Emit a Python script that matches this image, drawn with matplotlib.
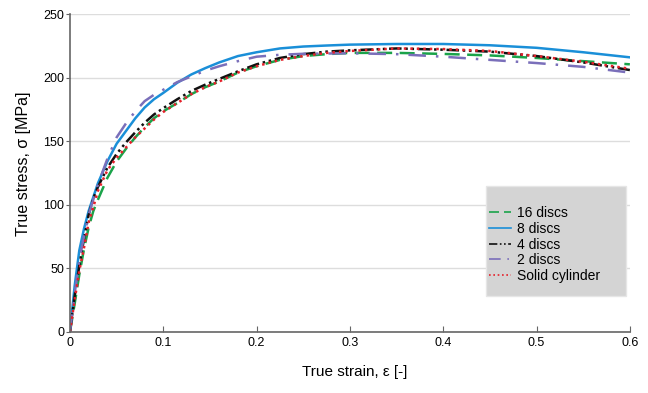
import matplotlib
matplotlib.use("Agg")
import matplotlib.pyplot as plt
from matplotlib.patches import Rectangle

plt.rcParams["font.family"] = ["Liberation Sans", "DejaVu Sans"]

# strain [-] / stress [MPa]
strain = [0.0, 0.005, 0.01, 0.015, 0.02, 0.025, 0.03, 0.04, 0.05, 0.06, 0.07, 0.08,
          0.09, 0.1, 0.115, 0.13, 0.145, 0.16, 0.18, 0.2, 0.225, 0.25, 0.275, 0.3,
          0.35, 0.4, 0.45, 0.5, 0.55, 0.6]

s16 = [0, 22, 45, 65, 82, 95, 104, 121, 134, 144, 153, 161,
       168, 173.5, 180, 187, 192.5, 197, 204, 209, 214, 217, 218.5, 219.5,
       219.5, 218.7, 217.5, 215.5, 213, 210.5]
s8 = [0, 36, 64, 81, 95, 106, 117, 134, 148, 158, 168, 176.5,
      183, 188, 196, 202.5, 207.5, 212, 217, 220, 223, 224.5, 225.3, 226,
      226.5, 226.5, 225.5, 223.5, 220, 216]
s4 = [0, 28, 52, 73, 92, 105, 114, 129, 140, 149, 157, 164.5,
      171, 176, 183, 189.5, 194.5, 199, 205, 210.5, 215.5, 218.5, 220.5, 221.5,
      223, 222, 220.5, 217, 212, 206]
s2 = [0, 30, 56, 75, 92, 104, 116, 136, 153, 164, 173.5, 181.5,
      186.5, 190.5, 196.5, 201, 205.5, 209, 213, 216.5, 218, 218.8, 219, 219.2,
      218.5, 216.5, 214, 211.5, 208.5, 204]
solid = [0, 25, 48, 66, 86, 98, 111, 127, 137, 145, 153, 160,
         167, 173, 180, 187, 192.5, 197, 204, 209, 214, 217, 219.5, 221,
         223, 222.5, 221, 217, 212.5, 207]

labels = ["16 discs", "8 discs", "4 discs", "2 discs", "Solid cylinder"]
colors = ["#1aa34a", "#1a8fd8", "#111111", "#7a6fba", "#e5202a"]
styles = [(0, (6, 3)), "-", (0, (5, 1.5, 1, 1.5, 1, 1.5)), (0, (7, 4, 1, 4)), (0, (1, 1.6))]

fig = plt.figure(figsize=(6.48, 3.93), dpi=100)
ax = fig.add_axes([0.108, 0.156, 0.864, 0.808])

for ys, lab, c, ls in zip([s16, s8, s4, s2, solid], labels, colors, styles):
    ax.plot(strain, ys, color=c, linestyle=ls, linewidth=1.8, label=lab)

ax.set_xlim(0, 0.6)
ax.set_ylim(0, 250)
ax.set_xticks([0, 0.1, 0.2, 0.3, 0.4, 0.5, 0.6])
ax.set_xticklabels(["0", "0.1", "0.2", "0.3", "0.4", "0.5", "0.6"])
ax.set_yticks([0, 50, 100, 150, 200, 250])
ax.yaxis.grid(True, color="#dddddd", linewidth=1)
ax.set_axisbelow(True)
for sp in ["top", "right"]:
    ax.spines[sp].set_visible(False)
for sp in ["left", "bottom"]:
    ax.spines[sp].set_color("#666666")
    ax.spines[sp].set_linewidth(1.2)
ax.tick_params(axis="x", direction="in", length=4, color="#666666", labelsize=9, pad=4)
ax.tick_params(axis="y", direction="out", length=3, color="#666666", labelsize=9, pad=1)

ax.set_xlabel("True strain, ε [-]", fontsize=11)
ax.set_ylabel("True stress, σ [MPa]", fontsize=11.5)
ax.xaxis.set_label_coords(0.509, -0.105)
ax.yaxis.set_label_coords(-0.07, 0.53)

# grey legend panel
ax.add_patch(Rectangle((0.743, 0.112), 0.251, 0.347, transform=ax.transAxes,
                       facecolor="#d4d4d4", edgecolor="#e6e6e6", linewidth=1, zorder=3))
leg = ax.legend(loc="upper left", bbox_to_anchor=(0.748, 0.395), fontsize=10,
                frameon=False, handlelength=1.6, handletextpad=0.4,
                labelspacing=0.12, borderpad=0, borderaxespad=0)
leg.set_zorder(4)
for h in leg.get_lines():
    h.set_linewidth(1.2)

fig.savefig("out.png", dpi=100)
